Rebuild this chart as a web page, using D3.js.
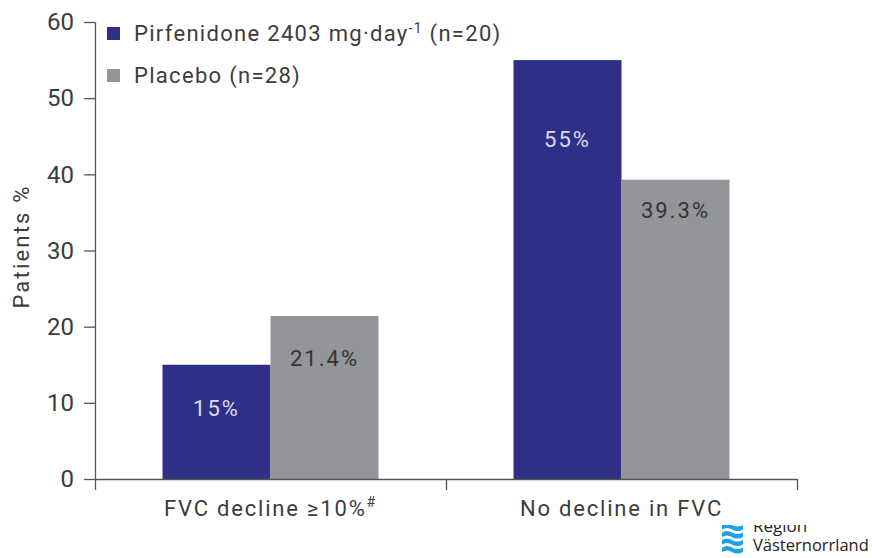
<!DOCTYPE html>
<html>
<head>
  <meta charset="utf-8">
  <title>Pirfenidone vs placebo FVC</title>
  <style>
    body { margin: 0; background: #fff; }
    svg text { font-family: Roboto, "DejaVu Sans", sans-serif; fill: #3c3c3c; }
  </style>
</head>
<body>
  <svg width="872" height="558"></svg>
  <script src="https://d3js.org/d3.v7.min.js"></script>
  <script>
    // data
    const categories = ["FVC decline \u226510%", "No decline in FVC"];
    const superscripts = ["#", ""];
    const seriesNames = ["Pirfenidone", "Placebo"];
    const pirfenidone = [15, 55];
    const placebo = [21.4, 39.3];
    const valueLabels = [["15%", "55%"], ["21.4%", "39.3%"]];
    // where the value label sits, in % units
    const labelAt = [[9.3, 44.6], [15.8, 35.3]];
    const yTicks = [0, 10, 20, 30, 40, 50, 60];

    const colors = ["#2e3087", "#939598"];
    const labelColors = ["#dcdcf0", "#333333"];

    const svg = d3.select("svg"),
          margin = {top: 22, right: 75, bottom: 79, left: 95},
          width = +svg.attr("width") - margin.left - margin.right,
          height = +svg.attr("height") - margin.top - margin.bottom;

    const g = svg.append("g")
      .attr("transform", "translate(" + margin.left + "," + margin.top + ")");

    const y = d3.scaleLinear().domain([0, 60]).range([height, 0]);
    const x0 = d3.scaleBand().domain(categories).range([0, width]).padding(0);
    const x1 = d3.scaleBand().domain(seriesNames).range([0, x0.bandwidth()])
      .paddingInner(0).paddingOuter(0.625);

    const values = [pirfenidone, placebo];

    // bars
    seriesNames.forEach(function(s, si) {
      g.selectAll(".bar-" + si)
        .data(categories)
        .enter()
        .append("rect")
        .attr("x", function(c) { return x0(c) + x1(s); })
        .attr("y", function(c, i) { return y(values[si][i]); })
        .attr("width", x1.bandwidth())
        .attr("height", function(c, i) { return height - y(values[si][i]); })
        .attr("fill", colors[si]);

      g.selectAll(".lab-" + si)
        .data(categories)
        .enter()
        .append("text")
        .attr("x", function(c) { return x0(c) + x1(s) + x1.bandwidth() / 2; })
        .attr("y", function(c, i) { return y(labelAt[si][i]); })
        .attr("text-anchor", "middle")
        .attr("dy", "0.35em")
        .style("font-size", "22px")
        .style("letter-spacing", "2px")
        .style("fill", labelColors[si])
        .text(function(c, i) { return valueLabels[si][i]; });
    });

    // y axis
    const yAxis = g.append("g")
      .call(d3.axisLeft(y).tickValues(yTicks).tickSize(11).tickSizeOuter(0).tickPadding(10));
    yAxis.select(".domain").attr("stroke", "#555").attr("stroke-width", 1.3);
    yAxis.selectAll(".tick line").attr("stroke", "#555").attr("stroke-width", 1.3);
    yAxis.selectAll(".tick text")
      .style("font-size", "24px")
      .style("font-family", "Roboto, sans-serif")
      .attr("fill", "#3c3c3c");

    // x axis with ticks at the band edges
    const xEdge = d3.scaleLinear().domain([0, categories.length]).range([0, width]);
    const xAxis = g.append("g")
      .attr("transform", "translate(0," + height + ")")
      .call(d3.axisBottom(xEdge).tickValues(d3.range(categories.length + 1))
        .tickSize(11).tickSizeOuter(0).tickFormat(""));
    xAxis.select(".domain").attr("stroke", "#555").attr("stroke-width", 1.3);
    xAxis.selectAll(".tick line").attr("stroke", "#555").attr("stroke-width", 1.3);

    // logo in the bottom right corner (top part hidden as in the source image)
    const logo = svg.append("g").attr("transform", "translate(722,524)");
    [0, 1, 2, 3].forEach(function(k) {
      logo.append("path")
        .attr("d", "M0," + (k * 7.5 + 1) + " q5,-3 10,0 q5,3 11,0 v4.5 q-6,3 -11,0 q-5,-3 -10,0 z")
        .attr("fill", "#1aa3dd");
    });
    logo.append("text").attr("x", 31).attr("y", 8).style("font-size", "17px")
      .style("fill", "#222").style("font-family", "\"Open Sans\", sans-serif").text("Region");
    logo.append("text").attr("x", 31).attr("y", 27).style("font-size", "16.5px")
      .style("fill", "#222").style("font-family", "\"Open Sans\", sans-serif").text("V\u00e4sternorrland");
    svg.append("rect").attr("x", 715).attr("y", 495).attr("width", 157).attr("height", 30).attr("fill", "#fff");

    // category labels
    const catG = svg.append("g")
      .attr("transform", "translate(" + margin.left + "," + margin.top + ")");
    const catText = catG.selectAll(".cat")
      .data(categories)
      .enter()
      .append("text")
      .attr("x", function(c) { return x0(c) + x0.bandwidth() / 2; })
      .attr("y", height + 37)
      .attr("text-anchor", "middle")
      .style("font-size", "22px")
      .style("letter-spacing", "1.8px");
    catText.append("tspan").text(function(c) { return c; });
    catText.append("tspan")
      .attr("dy", "-9")
      .style("font-size", "14px")
      .text(function(c, i) { return superscripts[i]; });

    // y label
    svg.append("text")
      .attr("transform", "translate(29," + (margin.top + height / 2 - 4) + ") rotate(-90)")
      .attr("text-anchor", "middle")
      .style("font-size", "22px")
      .style("letter-spacing", "2.2px")
      .text("Patients %");

    // legend
    const legendNames = ["Pirfenidone 2403 mg\u00b7day", "Placebo (n=28)"];
    const legend = svg.append("g").attr("transform", "translate(107,27)");
    legendNames.forEach(function(name, i) {
      const row = legend.append("g").attr("transform", "translate(0," + (i * 42) + ")");
      row.append("rect").attr("width", 13).attr("height", 13).attr("fill", colors[i]);
      const t = row.append("text")
        .attr("x", 27)
        .attr("y", 14)
        .style("font-size", "22px")
        .style("letter-spacing", "1.3px");
      t.append("tspan").text(name);
      if (i === 0) {
        t.append("tspan").attr("dy", "-8").style("font-size", "14px").text("-1");
        t.append("tspan").attr("dy", "8").text(" (n=20)");
      }
    });
  </script>
</body>
</html>
